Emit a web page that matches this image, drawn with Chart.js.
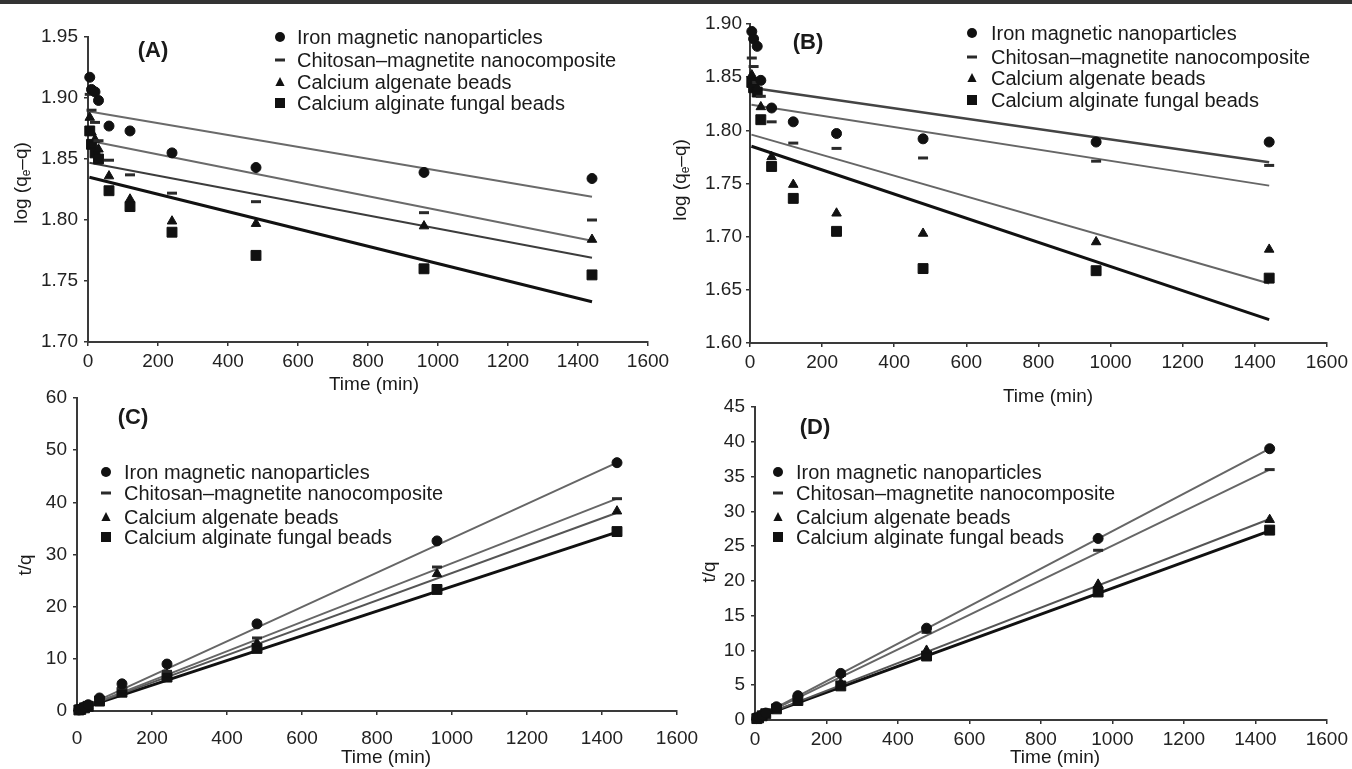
<!DOCTYPE html>
<html>
<head>
<meta charset="utf-8">
<script src="https://cdn.jsdelivr.net/npm/chart.js@4.4.1/dist/chart.umd.min.js"></script>
<style>
  body { margin: 0; background: #fff; }
  #wrap { position: relative; width: 1352px; height: 769px; overflow: hidden; }
  #topbar { position: absolute; left: 0; top: 0; width: 1352px; height: 4px; background: #333; }
  canvas { position: absolute; left: 0; top: 0; }
</style>
</head>
<body>
<div id="wrap">
  <div id="topbar"></div>
  <canvas id="chartA" width="1352" height="769"></canvas>
  <canvas id="chartB" width="1352" height="769"></canvas>
  <canvas id="chartC" width="1352" height="769"></canvas>
  <canvas id="chartD" width="1352" height="769"></canvas>
</div>
<script>
// sampling times (min) and fitted-line ends
const times = [5, 10, 20, 30, 60, 120, 240, 480, 960, 1440];
const fitTimes = [4, 1440];
const seriesLabels = [
  "Iron magnetic nanoparticles",
  "Chitosan–magnetite nanocomposite",
  "Calcium algenate beads",
  "Calcium alginate fungal beads",
];

// (A) pseudo-first-order, log(qe-q)
const ironA = [1.917, 1.907, 1.905, 1.898, 1.877, 1.873, 1.855, 1.843, 1.839, 1.834];
const chitA = [1.903, 1.890, 1.880, 1.865, 1.849, 1.837, 1.822, 1.815, 1.806, 1.800];
const triA = [1.884, 1.872, 1.866, 1.858, 1.836, 1.817, 1.799, 1.797, 1.795, 1.784];
const sqA = [1.873, 1.862, 1.855, 1.850, 1.824, 1.811, 1.790, 1.771, 1.760, 1.755];
const ironFitA = [1.889, 1.819];
const chitFitA = [1.865, 1.783];
const triFitA = [1.847, 1.769];
const sqFitA = [1.835, 1.733];

// (B) pseudo-first-order, log(qe-q)
const ironB = [1.893, 1.886, 1.879, 1.847, 1.821, 1.808, 1.797, 1.792, 1.789, 1.789];
const chitB = [1.868, 1.860, 1.845, 1.832, 1.808, 1.788, 1.783, 1.774, 1.771, 1.767];
const triB = [1.852, 1.846, 1.840, 1.822, 1.775, 1.749, 1.722, 1.703, 1.695, 1.688];
const sqB = [1.845, 1.840, 1.836, 1.810, 1.766, 1.736, 1.705, 1.670, 1.668, 1.661];
const ironFitB = [1.840, 1.770];
const chitFitB = [1.824, 1.748];
const triFitB = [1.796, 1.656];
const sqFitB = [1.785, 1.622];

// (C) pseudo-second-order, t/q
const ironC = [0.2, 0.4, 0.8, 1.2, 2.5, 5.2, 9.0, 16.7, 32.6, 47.6];
const chitC = [0.2, 0.4, 0.7, 1.0, 2.2, 4.4, 7.6, 14.0, 27.6, 40.7];
const triC = [0.2, 0.3, 0.7, 1.0, 2.0, 3.9, 7.0, 13.0, 26.3, 38.3];
const sqC = [0.2, 0.3, 0.6, 0.9, 1.9, 3.6, 6.5, 12.0, 23.3, 34.4];
const ironFitC = [0.3, 47.6];
const chitFitC = [0.3, 40.7];
const triFitC = [0.3, 38.0];
const sqFitC = [0.3, 34.3];

// (D) pseudo-second-order, t/q
const ironD = [0.2, 0.4, 0.7, 1.0, 1.9, 3.5, 6.7, 13.2, 26.1, 39.0];
const chitD = [0.2, 0.4, 0.7, 1.0, 1.8, 3.3, 6.4, 12.6, 24.4, 36.0];
const triD = [0.2, 0.4, 0.6, 0.9, 1.7, 3.0, 5.3, 10.0, 19.5, 28.8];
const sqD = [0.2, 0.3, 0.6, 0.9, 1.6, 2.8, 4.9, 9.2, 18.4, 27.3];
const ironFitD = [0.3, 39.0];
const chitFitD = [0.3, 36.0];
const triFitD = [0.3, 28.9];
const sqFitD = [0.3, 27.2];

const FAMILY = "'Liberation Sans', Arial, Helvetica, sans-serif";
const markerStyles = [
  { pointStyle: "circle", radius: 5, borderWidth: 1 },
  { pointStyle: "line", radius: 5, borderWidth: 3 },
  { pointStyle: "triangle", radius: 5.5, borderWidth: 1 },
  { pointStyle: "rect", radius: 7, borderWidth: 1 },
];

function pts(xs, ys) {
  return xs.map((x, i) => ({ x: x, y: ys[i] }));
}

function drawMarker(ctx, style, x, y) {
  ctx.fillStyle = "#111";
  ctx.strokeStyle = "#2a2a2a";
  ctx.beginPath();
  if (style === "circle") {
    ctx.arc(x, y, 5, 0, Math.PI * 2);
    ctx.fill();
  } else if (style === "line") {
    ctx.lineWidth = 3;
    ctx.moveTo(x - 5, y);
    ctx.lineTo(x + 5, y);
    ctx.stroke();
  } else if (style === "triangle") {
    ctx.moveTo(x, y - 5);
    ctx.lineTo(x + 4.6, y + 4);
    ctx.lineTo(x - 4.6, y + 4);
    ctx.closePath();
    ctx.fill();
  } else {
    ctx.fillRect(x - 5, y - 5, 10, 10);
  }
}

// panel tag, axis titles and the legend box
const panelText = {
  id: "panelText",
  afterDraw(chart, args, o) {
    const ctx = chart.ctx;
    ctx.save();
    ctx.fillStyle = "#1a1a1a";
    ctx.textAlign = "center";
    ctx.textBaseline = "middle";
    ctx.font = "bold 22px " + FAMILY;
    ctx.fillText(o.tag, o.tagX, o.tagY);
    ctx.font = "19px " + FAMILY;
    ctx.fillText("Time (min)", o.xTitleX, o.xTitleY);

    // rotated y title, with optional subscript
    ctx.save();
    ctx.translate(o.yTitleX, o.yTitleY);
    ctx.rotate(-Math.PI / 2);
    ctx.textAlign = "left";
    let total = 0;
    o.yTitle.forEach((p) => {
      ctx.font = (p[1] ? "12px " : "19px ") + FAMILY;
      total += ctx.measureText(p[0]).width;
    });
    let cx = -total / 2;
    o.yTitle.forEach((p) => {
      ctx.font = (p[1] ? "12px " : "19px ") + FAMILY;
      ctx.fillText(p[0], cx, p[1] ? 5 : 0);
      cx += ctx.measureText(p[0]).width;
    });
    ctx.restore();

    // legend
    ctx.textAlign = "left";
    ctx.font = "20px " + FAMILY;
    seriesLabels.forEach((label, i) => {
      const y = o.legendY[i];
      drawMarker(ctx, markerStyles[i].pointStyle, o.legendX, y);
      ctx.fillStyle = "#1a1a1a";
      ctx.fillText(label, o.legendTextX, y + 1);
    });
    ctx.restore();
  },
};

function makePanel(id, p) {
  const series = [p.iron, p.chit, p.tri, p.sq];
  const fits = [p.ironFit, p.chitFit, p.triFit, p.sqFit];
  const datasets = [];
  series.forEach((ys, i) => {
    datasets.push({
      label: seriesLabels[i],
      data: pts(times, ys),
      pointStyle: markerStyles[i].pointStyle,
      pointRadius: markerStyles[i].radius,
      pointBorderWidth: markerStyles[i].borderWidth,
      backgroundColor: "#111",
      borderColor: i === 1 ? "#2a2a2a" : "#111",
      showLine: false,
      clip: false,
    });
  });
  fits.forEach((ys, i) => {
    datasets.push({
      label: seriesLabels[i] + " fit",
      data: pts(fitTimes, ys),
      showLine: true,
      pointRadius: 0,
      borderColor: p.fitColors[i],
      borderWidth: p.fitWidths[i],
      clip: false,
    });
  });

  const a = p.area;
  const yW = p.yW;
  const xH = 45;
  const axisGrid = { display: true, drawOnChartArea: false, drawTicks: true, tickLength: 4, color: "#333", lineWidth: 1.5 };
  const axisBorder = { display: true, color: "#3a3a3a", width: 2 };

  new Chart(document.getElementById(id), {
    type: "scatter",
    data: { datasets: datasets },
    options: {
      responsive: false,
      animation: false,
      layout: {
        padding: { left: a.l - yW, right: 1352 - a.r, top: a.t, bottom: 769 - a.b - xH },
      },
      scales: {
        x: {
          type: "linear",
          min: 0,
          max: 1600,
          clip: false,
          grid: axisGrid,
          border: axisBorder,
          ticks: {
            stepSize: 200,
            color: "#222",
            padding: p.xPad,
            maxRotation: 0,
            autoSkip: false,
            font: { family: FAMILY, size: 19 },
            callback: (v) => String(v),
          },
          afterFit: (s) => { s.height = xH; },
        },
        y: {
          type: "linear",
          min: p.yMin,
          max: p.yMax,
          clip: false,
          grid: axisGrid,
          border: axisBorder,
          ticks: {
            stepSize: p.yStep,
            color: "#222",
            padding: p.yPad,
            autoSkip: false,
            font: { family: FAMILY, size: 19 },
            callback: (v) => (p.decimals ? v.toFixed(p.decimals) : String(v)),
          },
          afterFit: (s) => { s.width = yW; },
        },
      },
      plugins: {
        legend: { display: false },
        tooltip: { enabled: false },
        panelText: p.text,
      },
    },
    plugins: [panelText],
  });
}

const logTitle = [["log (q", false], ["e", true], ["–q)", false]];

makePanel("chartA", {
  iron: ironA, chit: chitA, tri: triA, sq: sqA,
  ironFit: ironFitA, chitFit: chitFitA, triFit: triFitA, sqFit: sqFitA,
  fitColors: ["#6a6a6a", "#6a6a6a", "#3c3c3c", "#111"],
  fitWidths: [2, 2, 2, 3],
  area: { l: 88, r: 648, t: 37, b: 342 },
  yW: 80,
  yMin: 1.7, yMax: 1.95, yStep: 0.05, decimals: 2, xPad: 4, yPad: 6,
  text: {
    tag: "(A)", tagX: 153, tagY: 51,
    xTitleX: 374, xTitleY: 385,
    yTitle: logTitle, yTitleX: 22, yTitleY: 183,
    legendX: 280, legendTextX: 297, legendY: [37, 60, 82, 103],
  },
});

makePanel("chartB", {
  iron: ironB, chit: chitB, tri: triB, sq: sqB,
  ironFit: ironFitB, chitFit: chitFitB, triFit: triFitB, sqFit: sqFitB,
  fitColors: ["#444", "#666", "#666", "#111"],
  fitWidths: [2.5, 2, 2, 3],
  area: { l: 750, r: 1328, t: 24, b: 343 },
  yW: 80,
  yMin: 1.6, yMax: 1.9, yStep: 0.05, decimals: 2, xPad: 4, yPad: 4,
  text: {
    tag: "(B)", tagX: 808, tagY: 43,
    xTitleX: 1048, xTitleY: 397,
    yTitle: logTitle, yTitleX: 681, yTitleY: 180,
    legendX: 972, legendTextX: 991, legendY: [33, 57, 78, 100],
  },
});

makePanel("chartC", {
  iron: ironC, chit: chitC, tri: triC, sq: sqC,
  ironFit: ironFitC, chitFit: chitFitC, triFit: triFitC, sqFit: sqFitC,
  fitColors: ["#666", "#666", "#555", "#111"],
  fitWidths: [2, 2, 2, 3],
  area: { l: 77, r: 677, t: 398, b: 711 },
  yW: 60,
  yMin: 0, yMax: 60, yStep: 10, decimals: 0, xPad: 12, yPad: 6,
  text: {
    tag: "(C)", tagX: 133, tagY: 418,
    xTitleX: 386, xTitleY: 758,
    yTitle: [["t/q", false]], yTitleX: 26, yTitleY: 565,
    legendX: 106, legendTextX: 124, legendY: [472, 493, 517, 537],
  },
});

makePanel("chartD", {
  iron: ironD, chit: chitD, tri: triD, sq: sqD,
  ironFit: ironFitD, chitFit: chitFitD, triFit: triFitD, sqFit: sqFitD,
  fitColors: ["#666", "#666", "#555", "#111"],
  fitWidths: [2, 2, 2, 3],
  area: { l: 755, r: 1331, t: 407, b: 720 },
  yW: 60,
  yMin: 0, yMax: 45, yStep: 5, decimals: 0, xPad: 4, yPad: 6,
  text: {
    tag: "(D)", tagX: 815, tagY: 428,
    xTitleX: 1055, xTitleY: 758,
    yTitle: [["t/q", false]], yTitleX: 710, yTitleY: 572,
    legendX: 778, legendTextX: 796, legendY: [472, 493, 517, 537],
  },
});
</script>
</body>
</html>
